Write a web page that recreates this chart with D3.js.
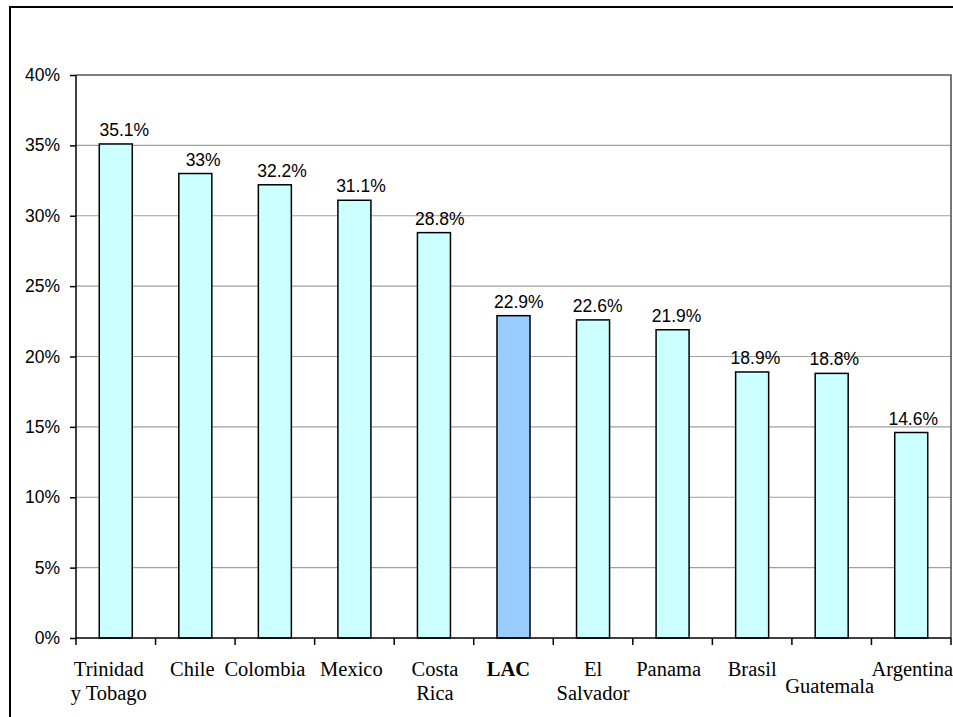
<!DOCTYPE html>
<html>
<head>
<meta charset="utf-8">
<script src="https://cdn.jsdelivr.net/npm/d3@7"></script>
<style>
  html, body { margin: 0; padding: 0; background: #fff; }
  svg { display: block; }
</style>
</head>
<body>
<script>
// Country labels (lines of each wrapped label) and their shares
const countries = [
  ["Trinidad", "y Tobago"],
  ["Chile"],
  ["Colombia"],
  ["Mexico"],
  ["Costa", "Rica"],
  ["LAC"],
  ["El", "Salvador"],
  ["Panama"],
  ["Brasil"],
  ["Guatemala"],
  ["Argentina"]
];
const shares = [35.1, 33, 32.2, 31.1, 28.8, 22.9, 22.6, 21.9, 18.9, 18.8, 14.6];
const yTicks = [0, 5, 10, 15, 20, 25, 30, 35, 40];
const highlight = "LAC";

const W = 953, H = 717;
const plot = { left: 76, right: 951, top: 75, bottom: 638 };

// Small horizontal adjustments to category labels so neighbours don't crowd
const labelNudge = { "Trinidad y Tobago": -7, "Chile": -3, "Colombia": -10, "Mexico": -3,
  "Costa Rica": 1, "LAC": -5, "Panama": -4, "Guatemala": -2, "Argentina": 1 };

const svg = d3.select("body").append("svg")
  .attr("width", W).attr("height", H);

// Outer chart frame (runs off the right and bottom edges)
svg.append("rect")
  .attr("x", 10).attr("y", 7)
  .attr("width", 960).attr("height", 730)
  .attr("fill", "#fff").attr("stroke", "#000").attr("stroke-width", 2);

const keys = countries.map(c => c.join(" "));

const x = d3.scaleBand()
  .domain(keys)
  .range([plot.left, plot.right])
  .paddingInner(0.585)
  .paddingOuter(0.2925);

const step = x.step();
const center = k => x(k) + x.bandwidth() / 2;

const y = d3.scaleLinear().domain([0, 40]).range([plot.bottom, plot.top]);

// Horizontal gridlines
svg.append("g")
  .selectAll("line")
  .data(yTicks.filter(t => t > 0 && t < 40))
  .join("line")
  .attr("x1", plot.left).attr("x2", plot.right)
  .attr("y1", d => y(d)).attr("y2", d => y(d))
  .attr("stroke", "#a0a0a0").attr("stroke-width", 1.2);

// Plot area border (top and right)
svg.append("path")
  .attr("d", `M${plot.left},${y(40)}H${plot.right}V${plot.bottom}`)
  .attr("fill", "none").attr("stroke", "#555").attr("stroke-width", 1.6);

const rows = shares.map((v, i) => ({ key: keys[i], v, i }));

// Bars
svg.append("g")
  .selectAll("rect")
  .data(rows)
  .join("rect")
  .attr("x", d => x(d.key))
  .attr("y", d => y(d.v))
  .attr("width", x.bandwidth())
  .attr("height", d => y(0) - y(d.v))
  .attr("fill", d => d.key === highlight ? "#99ccff" : "#ccffff")
  .attr("stroke", "#000").attr("stroke-width", 1.5);

// Value labels, set slightly right of each bar's centre
svg.append("g")
  .selectAll("text")
  .data(rows)
  .join("text")
  .attr("x", d => center(d.key) + 8.5 - 0.65 * d.i)
  .attr("y", d => y(d.v) - 8)
  .attr("text-anchor", "middle")
  .attr("font-family", "Liberation Sans, Arial, sans-serif")
  .attr("font-size", "17.5px")
  .attr("fill", "#000")
  .text(d => `${d.v}%`);

// Y axis
const yAxis = svg.append("g")
  .attr("transform", `translate(${plot.left},0)`)
  .call(d3.axisLeft(y).tickValues(yTicks).tickSize(6).tickPadding(10)
    .tickFormat(d => `${d}%`));
yAxis.select(".domain").attr("stroke", "#000").attr("stroke-width", 1.5)
  .attr("d", `M0,${plot.top}V${plot.bottom}`);
yAxis.selectAll(".tick line").attr("stroke", "#000").attr("stroke-width", 1.5);
yAxis.selectAll(".tick text")
  .attr("font-family", "Liberation Sans, Arial, sans-serif")
  .attr("font-size", "17.5px").attr("fill", "#000");

// X axis: baseline and category-boundary ticks
svg.append("line")
  .attr("x1", plot.left).attr("x2", plot.right)
  .attr("y1", plot.bottom).attr("y2", plot.bottom)
  .attr("stroke", "#000").attr("stroke-width", 1.5);
svg.append("g")
  .selectAll("line")
  .data(d3.range(keys.length + 1))
  .join("line")
  .attr("x1", i => plot.left + i * step).attr("x2", i => plot.left + i * step)
  .attr("y1", plot.bottom).attr("y2", plot.bottom + 7)
  .attr("stroke", "#000").attr("stroke-width", 1.5);

// Category labels; Guatemala sits lower to avoid crowding its neighbours
const labels = svg.append("g")
  .attr("font-family", "Liberation Serif, Times New Roman, serif")
  .attr("font-size", "20.5px")
  .attr("fill", "#000");
countries.forEach((lines, i) => {
  const k = keys[i];
  const base = k === "Guatemala" ? 693 : 675.5;
  const cx = center(k) + (labelNudge[k] || 0);
  const t = labels.append("text")
    .attr("text-anchor", "middle")
    .attr("font-weight", k === highlight ? "bold" : "normal");
  lines.forEach((ln, j) => {
    t.append("tspan")
      .attr("x", cx)
      .attr("y", base + j * 24.5)
      .text(ln);
  });
});
</script>
</body>
</html>
